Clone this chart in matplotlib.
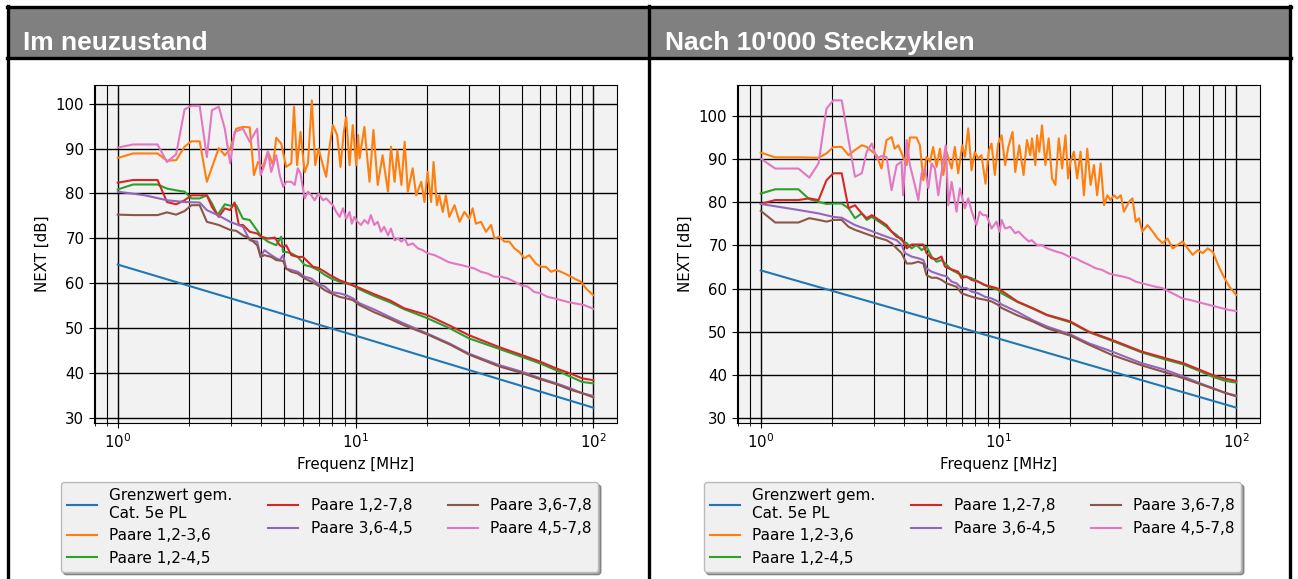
import matplotlib.pyplot as plt
from matplotlib.patches import Rectangle
from matplotlib.lines import Line2D

W, H = 1298, 579

titles = ["Im neuzustand", "Nach 10'000 Steckzyklen"]
labels = ["Grenzwert gem.\nCat. 5e PL", "Paare 1,2-3,6", "Paare 1,2-4,5",
          "Paare 1,2-7,8", "Paare 3,6-4,5", "Paare 3,6-7,8", "Paare 4,5-7,8"]

# Grenzwert (same in both panels)
lim_f = [1, 10, 100]
lim_db = [64.2, 48.4, 32.4]

# ---- Im neuzustand ----
neu_or_f = [
    1.00, 1.16, 1.47, 1.61, 1.76, 1.91, 2.04, 2.21, 2.37, 2.66,
    2.82, 2.97, 3.15, 3.36, 3.59, 3.74, 3.89, 4.08, 4.28, 4.50,
    4.64, 4.87, 5.11, 5.37, 5.51, 5.68, 5.87, 6.11, 6.31, 6.55,
    6.77, 6.99, 7.29, 7.53, 7.78, 8.03, 8.37, 8.65, 8.93, 9.14,
    9.44, 9.74, 10.07, 10.25, 10.4, 10.9, 11.45, 11.9, 12.4, 13.0,
    13.7, 14.1, 14.6, 15.0, 15.6, 16.1, 16.6, 17.4, 18.0, 18.9,
    19.5, 20.1, 20.8, 21.3, 22.0, 22.5, 23.3, 24.0, 24.8, 26.1,
    27.4, 28.7, 30.1, 31.1, 32.1, 33.7, 35.4, 37.2, 38.4, 40.3,
    42.3, 44.4, 46.6, 48.9, 51.3, 53.8, 57.4, 60.3, 63.3, 66.4,
    69.7, 73.1, 78.0, 83.2, 88.7, 93.2, 100]
neu_or_db = [
    87.9, 88.9, 88.9, 87.3, 87.4, 90.4, 91.6, 91.6, 82.6, 90.1,
    88.5, 89.9, 94.4, 94.8, 94.7, 84.1, 87.0, 85.9, 89.3, 86.3,
    92.4, 91.1, 85.9, 86.7, 99.3, 86.3, 93.7, 84.7, 86.7, 100.7,
    86.3, 90.0, 86.3, 83.7, 90.4, 95.2, 93.0, 85.9, 93.7, 97.0,
    86.3, 95.2, 86.3, 93.0, 87.8, 94.8, 82.6, 94.1, 81.9, 88.5,
    80.4, 90.4, 82.6, 89.6, 81.9, 91.5, 80.4, 85.6, 79.6, 82.6,
    78.1, 84.8, 78.1, 87.0, 77.4, 79.6, 75.9, 79.6, 74.8, 77.4,
    73.7, 75.9, 74.4, 76.7, 73.3, 73.7, 71.5, 73.0, 70.0, 70.4,
    69.3, 69.3, 67.8, 67.0, 65.6, 66.3, 64.4, 63.7, 63.7, 62.6,
    63.0, 62.6, 61.9, 61.1, 60.4, 58.9, 57.4]

neu_gn_f = [
    1.00, 1.16, 1.47, 1.61, 1.76, 1.91, 2.04, 2.21, 2.37, 2.49,
    2.63, 2.82, 2.97, 3.15, 3.36, 3.59, 3.89, 4.01, 4.28, 4.64,
    4.87, 4.96, 5.11, 5.37, 5.72, 6.11, 6.52, 6.94, 7.43, 7.90,
    8.58, 9.14, 9.74, 10.4, 12, 14, 16, 20, 25, 30,
    40, 50, 60, 70, 80, 90, 100]
neu_gn_db = [
    80.9, 82.0, 82.0, 81.1, 80.7, 80.4, 78.9, 78.9, 79.6, 77.8,
    75.2, 77.6, 77.3, 77.4, 74.4, 74.1, 71.5, 70.4, 69.3, 68.5,
    70.4, 67.0, 67.0, 66.7, 65.9, 64.1, 63.7, 63.0, 61.9, 61.1,
    60.4, 60.0, 59.6, 58.7, 57.2, 55.8, 54.3, 52.3, 50.0, 47.8,
    45.5, 43.7, 42.2, 40.7, 39.3, 38.1, 37.8]

neu_rd_f = [
    1.00, 1.16, 1.47, 1.61, 1.76, 1.91, 2.04, 2.37, 2.49, 2.66,
    2.82, 2.97, 3.10, 3.23, 3.36, 3.59, 3.86, 4.01, 4.28, 4.58,
    4.80, 4.96, 5.11, 5.37, 5.72, 6.01, 6.31, 6.64, 6.94, 7.43,
    7.78, 8.19, 8.58, 9.14, 9.74, 10.4, 12, 14, 16, 20,
    25, 30, 40, 50, 60, 70, 80, 90, 100]
neu_rd_db = [
    82.4, 83.0, 83.0, 78.1, 77.6, 78.5, 79.6, 79.6, 77.0, 74.8,
    76.7, 76.3, 78.0, 73.0, 73.0, 71.5, 71.1, 70.4, 70.0, 70.2,
    68.5, 68.1, 68.5, 66.3, 65.9, 65.9, 64.8, 63.7, 63.5, 62.6,
    61.9, 61.3, 60.7, 60.2, 59.6, 59.0, 57.6, 56.2, 54.5, 53.0,
    50.6, 48.5, 45.9, 44.1, 42.6, 41.1, 40.0, 38.9, 38.5]

neu_pu_f = [
    1.00, 1.30, 1.61, 1.91, 2.21, 2.37, 2.63, 2.97, 3.36, 3.59,
    3.86, 3.99, 4.14, 4.42, 4.64, 4.80, 4.96, 5.11, 5.37, 5.72,
    6.11, 6.52, 6.94, 7.43, 7.90, 8.58, 9.14, 9.74, 10.4, 12,
    14, 16, 20, 25, 30, 40, 50, 60, 70, 80,
    90, 100]
neu_pu_db = [
    80.4, 79.6, 78.5, 78.1, 78.0, 76.3, 75.2, 73.7, 72.6, 69.6,
    69.3, 65.9, 67.4, 66.3, 65.6, 65.2, 66.3, 63.3, 63.0, 62.6,
    61.5, 61.1, 60.0, 59.3, 58.1, 57.8, 57.4, 56.7, 55.6, 54.2,
    52.5, 51.1, 48.9, 46.6, 44.4, 41.9, 40.4, 38.9, 37.8, 36.7,
    35.6, 35.0]

neu_br_f = [
    1.00, 1.16, 1.47, 1.61, 1.76, 1.91, 2.04, 2.21, 2.37, 2.66,
    2.97, 3.15, 3.36, 3.59, 3.86, 3.99, 4.14, 4.42, 4.64, 4.96,
    5.11, 5.37, 5.72, 6.11, 6.52, 6.94, 7.43, 7.90, 8.58, 9.14,
    9.74, 10.4, 12, 14, 16, 20, 25, 30, 40, 50,
    60, 70, 80, 90, 100]
neu_br_db = [
    75.3, 75.2, 75.2, 75.8, 75.3, 76.1, 77.4, 77.4, 73.7, 73.0,
    71.9, 71.7, 70.7, 70.0, 68.5, 65.9, 66.3, 65.9, 65.2, 65.0,
    63.3, 62.6, 62.2, 61.1, 60.4, 59.6, 58.5, 57.8, 57.0, 56.7,
    56.3, 55.2, 53.6, 52.1, 50.7, 48.7, 46.4, 44.2, 41.6, 40.1,
    38.7, 37.6, 36.4, 35.6, 34.7]

neu_pk_f = [
    1.00, 1.16, 1.47, 1.61, 1.76, 1.91, 2.04, 2.21, 2.37, 2.49,
    2.66, 2.82, 2.97, 3.10, 3.36, 3.59, 3.86, 3.99, 4.14, 4.28,
    4.42, 4.64, 4.80, 4.96, 5.11, 5.37, 5.55, 5.72, 5.87, 6.11,
    6.31, 6.52, 6.73, 6.99, 7.29, 7.53, 7.78, 8.03, 8.30, 8.58,
    8.86, 9.14, 9.44, 9.65, 9.90, 10.2, 10.55, 10.9, 11.3, 11.6,
    12.0, 12.4, 12.8, 13.2, 13.7, 14.1, 14.6, 15.1, 15.6, 16.1,
    16.6, 17.4, 18.3, 19.2, 20.1, 21.5, 22.9, 24.5, 26.1, 27.8,
    29.7, 31.7, 33.7, 36.0, 38.4, 40.9, 43.7, 46.6, 49.7, 53.0,
    56.5, 60.3, 64.3, 68.6, 73.1, 78.0, 83.2, 91.5, 100]
neu_pk_db = [
    90.2, 90.9, 90.9, 87.0, 88.7, 98.7, 99.5, 99.5, 88.1, 98.5,
    99.3, 94.4, 86.7, 93.7, 94.4, 91.5, 94.4, 84.1, 86.3, 89.3,
    84.8, 88.5, 84.1, 81.5, 82.6, 82.6, 81.9, 85.6, 84.4, 78.9,
    80.4, 79.6, 78.5, 80.0, 78.5, 78.9, 78.1, 77.4, 75.9, 74.8,
    76.7, 74.4, 75.9, 73.3, 74.8, 73.7, 73.0, 74.1, 73.3, 75.2,
    73.0, 73.7, 71.5, 72.6, 70.7, 72.2, 69.6, 70.0, 69.3, 70.0,
    68.5, 68.9, 67.8, 67.4, 66.7, 66.3, 65.6, 64.8, 64.4, 64.1,
    63.7, 63.3, 62.6, 62.2, 61.5, 61.5, 61.1, 60.4, 59.6, 59.3,
    58.1, 57.8, 57.0, 56.7, 56.3, 55.9, 55.6, 55.2, 54.4]

# ---- Nach 10'000 Steckzyklen ----
st_or_f = [
    1.00, 1.15, 1.44, 1.75, 1.89, 2.02, 2.19, 2.34, 2.49, 2.66,
    2.79, 3.07, 3.22, 3.38, 3.55, 3.66, 3.79, 3.97, 4.11, 4.24,
    4.52, 4.67, 4.83, 4.98, 5.15, 5.31, 5.49, 5.67, 5.86, 6.05,
    6.35, 6.55, 6.77, 7.04, 7.22, 7.46, 7.70, 7.95, 8.21, 8.48,
    8.82, 9.11, 9.35, 9.65, 9.97, 10.3, 10.67, 11.0, 11.46, 11.76,
    12.23, 12.75, 13.17, 13.61, 13.83, 14.29, 14.52, 14.85, 15.24, 15.75,
    16.26, 16.8, 17.35, 17.93, 18.52, 19.13, 19.63, 20.08, 20.75, 21.43,
    22.14, 22.87, 23.62, 24.4, 25.2, 26.0, 26.9, 27.8, 28.7, 29.6,
    30.6, 31.6, 32.7, 33.7, 35.4, 36.6, 37.8, 39.0, 40.3, 42.4,
    44.5, 46.7, 49.0, 51.4, 54.0, 56.7, 59.5, 62.5, 65.6, 68.9,
    72.3, 75.9, 79.7, 82.3, 85.1, 89.3, 93.7, 100]
st_or_db = [
    91.5, 90.4, 90.4, 90.3, 91.3, 92.8, 92.8, 90.9, 92.1, 93.2,
    92.8, 90.9, 87.8, 94.4, 95.1, 92.4, 93.2, 90.5, 88.6, 95.0,
    95.0, 93.2, 85.1, 90.5, 89.4, 92.8, 88.2, 92.4, 86.3, 91.6,
    87.8, 92.8, 86.7, 93.2, 90.5, 97.1, 87.4, 91.6, 90.1, 90.9,
    84.3, 92.0, 93.6, 86.3, 93.6, 95.5, 88.6, 92.8, 96.3, 87.0,
    93.2, 86.3, 94.4, 90.9, 94.8, 88.6, 95.5, 91.7, 97.8, 88.6,
    94.8, 85.5, 84.0, 94.8, 87.8, 95.5, 85.5, 89.4, 91.7, 85.5,
    91.7, 81.6, 92.4, 84.0, 88.6, 81.6, 89.0, 79.3, 81.6, 80.5,
    81.6, 80.9, 81.6, 77.8, 80.1, 80.9, 75.5, 76.3, 73.2, 74.7,
    73.2, 71.6, 70.5, 71.6, 69.3, 70.1, 70.9, 69.3, 67.8, 68.9,
    68.2, 69.3, 68.5, 66.6, 64.7, 62.4, 60.4, 58.5]

st_gn_f = [
    1.00, 1.15, 1.44, 1.60, 1.75, 1.89, 2.02, 2.19, 2.34, 2.49,
    2.66, 2.79, 2.93, 3.22, 3.38, 3.55, 3.73, 3.91, 4.11, 4.31,
    4.52, 4.75, 4.98, 5.23, 5.49, 5.76, 6.05, 6.35, 6.77, 7.22,
    7.70, 8.21, 8.76, 9.35, 9.97, 10.3, 12, 14, 16, 20,
    24, 30, 40, 50, 60, 70, 80, 90, 100]
st_gn_db = [
    82.0, 83.0, 83.0, 80.7, 80.1, 79.6, 79.7, 79.7, 78.6, 76.3,
    77.4, 75.9, 76.6, 75.1, 74.3, 73.2, 72.4, 71.2, 70.5, 69.3,
    70.1, 68.9, 69.7, 67.4, 66.2, 66.6, 65.5, 64.3, 63.5, 62.8,
    62.4, 61.6, 60.8, 60.1, 59.7, 58.9, 56.9, 55.3, 53.8, 52.2,
    49.9, 47.9, 45.2, 43.6, 42.4, 40.9, 39.5, 38.6, 38.2]

st_rd_f = [
    1.00, 1.15, 1.44, 1.60, 1.75, 1.89, 2.02, 2.19, 2.34, 2.49,
    2.66, 2.79, 2.93, 3.22, 3.38, 3.55, 3.73, 3.91, 4.11, 4.31,
    4.60, 4.83, 4.98, 5.23, 5.49, 5.76, 5.95, 6.15, 6.45, 6.77,
    6.99, 7.34, 7.70, 8.21, 8.76, 9.35, 9.81, 10.3, 12, 14,
    16, 20, 24, 30, 40, 50, 60, 70, 80, 90,
    100]
st_rd_db = [
    79.6, 80.5, 80.5, 80.9, 80.5, 85.1, 86.7, 86.7, 78.6, 79.3,
    77.4, 76.3, 77.0, 75.5, 74.7, 73.2, 72.0, 71.6, 69.3, 70.2,
    70.2, 70.2, 68.2, 67.0, 66.8, 67.4, 65.1, 64.7, 64.3, 63.9,
    62.4, 62.8, 62.0, 61.6, 60.8, 60.4, 60.1, 59.5, 57.0, 55.4,
    53.9, 52.4, 50.0, 48.1, 45.4, 43.9, 42.7, 41.2, 39.9, 39.1,
    38.6]

st_pu_f = [
    1.00, 1.44, 1.75, 2.02, 2.19, 2.49, 2.93, 3.38, 3.73, 3.91,
    4.04, 4.31, 4.60, 4.83, 4.98, 5.23, 5.49, 5.76, 6.05, 6.35,
    6.66, 6.99, 7.34, 7.70, 8.21, 8.76, 9.35, 9.97, 10.3, 12,
    14, 16, 20, 24, 30, 40, 50, 60, 70, 80,
    90, 100]
st_pu_db = [
    79.6, 78.2, 77.4, 76.6, 76.4, 74.7, 73.3, 72.0, 71.2, 70.1,
    68.2, 67.4, 67.0, 66.6, 64.7, 63.9, 63.5, 63.1, 62.8, 61.6,
    61.2, 60.1, 60.1, 59.3, 58.9, 58.1, 57.7, 57.0, 56.3, 54.6,
    52.6, 51.2, 49.4, 47.3, 45.4, 42.7, 41.2, 39.6, 38.1, 36.9,
    35.8, 35.2]

st_br_f = [
    1.00, 1.15, 1.44, 1.60, 1.75, 1.89, 2.02, 2.19, 2.34, 2.49,
    2.93, 3.38, 3.55, 3.73, 3.91, 4.11, 4.31, 4.60, 4.83, 4.98,
    5.23, 5.49, 5.76, 6.05, 6.35, 6.66, 6.99, 7.34, 7.70, 8.21,
    8.76, 9.35, 9.97, 10.3, 12, 14, 16, 20, 24, 30,
    40, 50, 60, 70, 80, 90, 100]
st_br_db = [
    78.0, 75.3, 75.3, 76.3, 75.9, 75.5, 75.9, 75.9, 74.3, 73.6,
    72.2, 71.2, 70.5, 69.3, 68.2, 65.8, 65.8, 66.2, 65.8, 63.1,
    62.5, 62.5, 62.0, 61.2, 60.8, 60.4, 58.9, 58.5, 58.1, 57.7,
    57.4, 57.0, 56.2, 55.5, 53.8, 52.3, 50.8, 49.1, 47.0, 44.6,
    42.2, 40.6, 39.2, 37.9, 36.8, 35.8, 35.0]

st_pk_f = [
    1.00, 1.15, 1.44, 1.60, 1.75, 1.89, 2.02, 2.19, 2.49, 2.66,
    2.79, 2.93, 3.07, 3.22, 3.38, 3.55, 3.73, 3.91, 3.97, 4.11,
    4.24, 4.38, 4.60, 4.75, 4.91, 5.07, 5.23, 5.40, 5.58, 5.76,
    6.00, 6.15, 6.35, 6.66, 6.88, 7.22, 7.46, 7.70, 8.08, 8.33,
    8.61, 8.90, 9.35, 9.81, 10.1, 10.3, 10.67, 11.2, 11.76, 12.15,
    12.75, 13.4, 13.8, 14.5, 15.2, 16.0, 16.8, 17.6, 18.5, 19.8,
    21.1, 22.5, 24.0, 25.6, 27.3, 29.1, 31.1, 33.2, 35.4, 37.8,
    40.3, 43.0, 45.9, 48.9, 52.2, 55.7, 59.4, 63.4, 67.6, 72.1,
    76.9, 82.1, 87.6, 93.4, 100]
st_pk_db = [
    90.1, 87.8, 87.8, 85.7, 89.0, 101.7, 103.6, 103.6, 85.9, 86.7,
    91.7, 93.6, 90.1, 90.7, 90.5, 82.8, 88.6, 89.4, 81.6, 94.4,
    88.6, 85.5, 80.5, 86.7, 87.8, 83.2, 89.0, 87.8, 81.6, 87.0,
    93.2, 79.3, 84.7, 77.8, 83.2, 78.6, 80.9, 78.0, 74.7, 77.8,
    77.0, 77.0, 73.9, 75.5, 73.2, 75.9, 73.9, 74.3, 72.8, 73.2,
    72.0, 70.9, 71.2, 70.1, 70.1, 69.3, 68.9, 68.5, 68.2, 67.4,
    67.0, 66.2, 65.5, 64.7, 64.3, 63.5, 63.1, 62.8, 62.4, 61.6,
    61.2, 60.8, 60.4, 60.1, 59.3, 58.5, 57.7, 57.4, 57.0, 56.6,
    56.2, 55.8, 55.4, 55.0, 54.8]

panels = [
    [(lim_f, lim_db), (neu_or_f, neu_or_db), (neu_gn_f, neu_gn_db), (neu_rd_f, neu_rd_db),
     (neu_pu_f, neu_pu_db), (neu_br_f, neu_br_db), (neu_pk_f, neu_pk_db)],
    [(lim_f, lim_db), (st_or_f, st_or_db), (st_gn_f, st_gn_db), (st_rd_f, st_rd_db),
     (st_pu_f, st_pu_db), (st_br_f, st_br_db), (st_pk_f, st_pk_db)],
]


def fx(x):
    return x / W


def fy(y):
    return 1 - y / H


fig = plt.figure(figsize=(W / 100, H / 100), dpi=100)

# grey headers and black frame
for x0, x1 in [(9, 648), (650, 1289)]:
    fig.add_artist(Rectangle((fx(x0), fy(57)), (x1 - x0) / W, 50 / H,
                             transform=fig.transFigure, facecolor="#808080", edgecolor="none"))
for x in [8, 649, 1290]:
    fig.add_artist(Line2D([fx(x), fx(x)], [fy(6), 0], transform=fig.transFigure, color="k", lw=2.4))
for y in [7, 57.5]:
    fig.add_artist(Line2D([fx(7), fx(1291)], [fy(y), fy(y)], transform=fig.transFigure, color="k", lw=2.4))

for i, (title, series) in enumerate(zip(titles, panels)):
    left = [94, 737][i]
    fig.text(fx([23, 665][i]), fy(50), title, family="Liberation Sans", weight="bold",
             fontsize=19, color="white", va="baseline")
    ax = fig.add_axes([fx(left), fy(423), 523 / W, 338 / H])
    ax.set_facecolor("#f2f2f2")
    for (f, db), lab in zip(series, labels):
        ax.plot(f, db, lw=1.5, label=lab)
    ax.set_xscale("log")
    ax.grid(True, which="major", color="black", lw=1.0)
    ax.grid(True, which="minor", color="black", lw=0.8)
    ax.tick_params(labelsize=10.8)
    ax.set_xlabel("Frequenz [MHz]", fontsize=10.8)
    ax.set_ylabel("NEXT [dB]", fontsize=10.8)
    ax.legend(loc="upper center", bbox_to_anchor=(0.45, -0.152), ncol=3, fontsize=11,
              columnspacing=2.3, shadow=True, facecolor="#f0f0f0", edgecolor="#bbbbbb",
              framealpha=1)

fig.savefig("out.png", dpi=100)
